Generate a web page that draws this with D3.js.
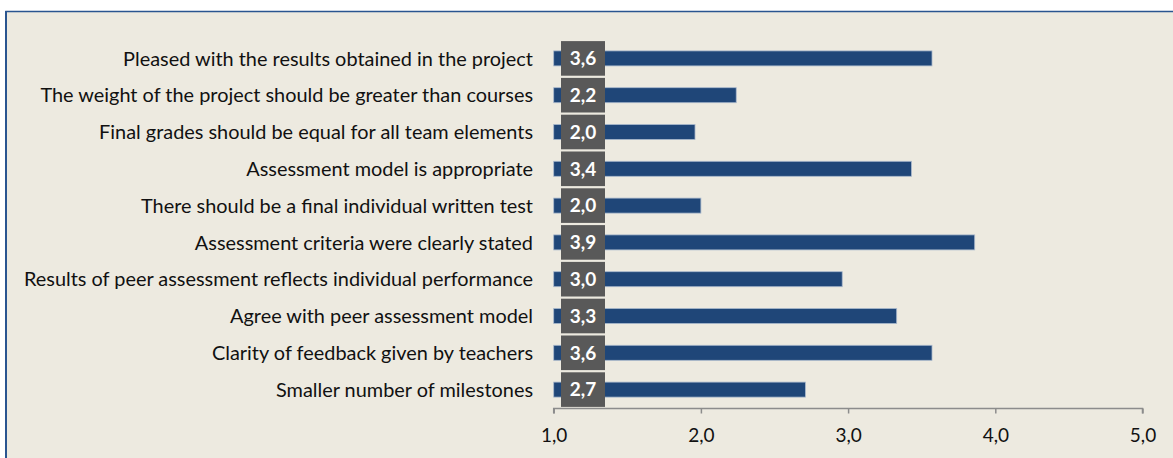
<!DOCTYPE html>
<html>
<head>
<meta charset="utf-8">
<script src="https://cdn.jsdelivr.net/npm/d3@7"></script>
<style>
  body { margin: 0; background: #fff; }
  svg { display: block; }
</style>
</head>
<body>
<svg width="1173" height="458"></svg>
<script>
// survey items, top to bottom
const categories = [
  "Pleased with the results obtained in the project",
  "The weight of the project should be greater than courses",
  "Final grades should be equal for all team elements",
  "Assessment model is appropriate",
  "There should be a final individual written test",
  "Assessment criteria were clearly stated",
  "Results of peer assessment reflects individual performance",
  "Agree with peer assessment model",
  "Clarity of feedback given by teachers",
  "Smaller number of milestones"
];
const values = [3.57, 2.24, 1.96, 3.43, 2.0, 3.86, 2.96, 3.33, 3.57, 2.71];
const tickValues = [1, 2, 3, 4, 5];

function run() {
  let svg = d3.select("svg");
  let width = +svg.attr("width");
  let height = +svg.attr("height");

  let fmt = v => d3.format(".1f")(v).replace(".", ",");
  let font = "Lato, 'Open Sans', sans-serif";

  // frame
  svg.append("rect").attr("x", 6).attr("y", 11.5).attr("width", width).attr("height", height)
    .attr("fill", "#edeae0").attr("stroke", "#2a5590").attr("stroke-width", 1.5);
  svg.append("line").attr("x1", 6).attr("x2", 6).attr("y1", 11).attr("y2", height)
    .attr("stroke", "#2a5590").attr("stroke-width", 2);

  let x = d3.scaleLinear().domain([1, 5]).range([553.7, 1142.5]);
  let y = d3.scaleBand().domain(categories).range([40, 408]).padding(0);

  // axis
  let axis = svg.append("g").attr("transform", "translate(0,408.5)")
    .call(d3.axisBottom(x).tickValues(tickValues).tickFormat(fmt).tickSize(5).tickPadding(15));
  axis.select(".domain").attr("stroke", "#8c8c8c").attr("stroke-width", 1.5)
    .attr("d", `M${x(1)},5V0H${x(5)}V5`);
  axis.selectAll(".tick line").attr("stroke", "#8c8c8c").attr("stroke-width", 1.5);
  axis.selectAll(".tick text").attr("fill", "#111")
    .style("font-family", font).style("font-size", "19px");

  let rows = svg.append("g").selectAll("g").data(categories).join("g")
    .attr("transform", d => `translate(0,${y(d) + y.bandwidth() / 2})`);

  rows.append("rect")
    .attr("x", x(1))
    .attr("y", -7.5)
    .attr("height", 15)
    .attr("width", (d, i) => x(values[i]) - x(1))
    .attr("fill", "#1f4678")
    .attr("stroke", "#a9b8cc").attr("stroke-width", 0.8);

  rows.append("rect")
    .attr("x", 561).attr("y", -17.3).attr("width", 44).attr("height", 34.6)
    .attr("fill", "#595959");

  rows.append("text")
    .attr("x", 583).attr("y", 0).attr("dy", "0.36em")
    .attr("text-anchor", "middle")
    .attr("fill", "#fff")
    .style("font-family", font)
    .style("font-size", "19px").style("font-weight", "bold")
    .text((d, i) => fmt(values[i]));

  rows.append("text")
    .attr("x", 533).attr("y", 0).attr("dy", "0.36em")
    .attr("text-anchor", "end")
    .attr("fill", "#111")
    .style("font-family", font)
    .style("font-size", "19.9px")
    .text(d => d);
}

run();
</script>
</body>
</html>
